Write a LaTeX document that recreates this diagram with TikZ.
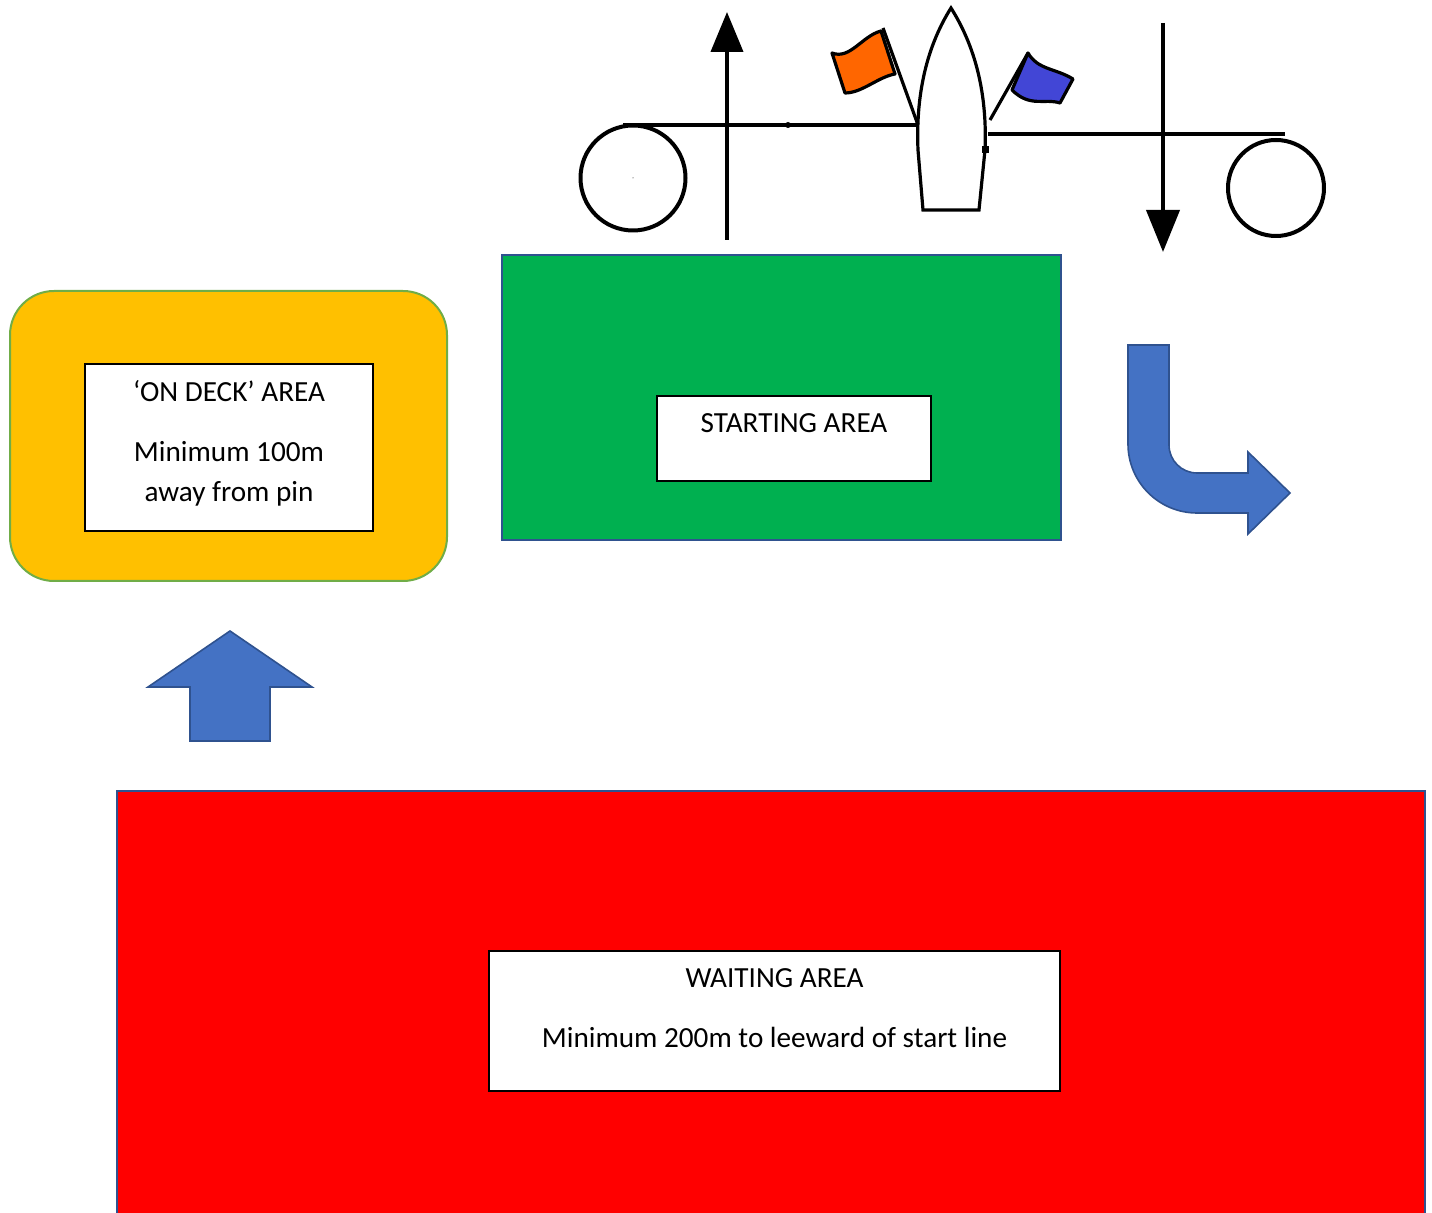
\documentclass[tikz,border=0pt]{standalone}
\usepackage{fontspec}
\setmainfont{Carlito}
\usepackage{tikz}
\usetikzlibrary{arrows.meta}

\definecolor{deckyellow}{HTML}{FFC000}
\definecolor{deckgreen}{HTML}{70AD47}
\definecolor{startgreen}{HTML}{00B050}
\definecolor{waitred}{HTML}{FF0000}
\definecolor{shapeblue}{HTML}{4472C4}
\definecolor{edgeblue}{HTML}{2F528F}
\definecolor{flagorange}{HTML}{FF6600}
\definecolor{flagblue}{HTML}{4246D6}

\tikzset{
    area/.style={draw=edgeblue, line width=1pt, inner sep=0pt},
    infobox/.style={draw, fill=white, line width=0.8pt, inner sep=0pt},
    txt/.style={anchor=base, inner sep=0pt, font=\fontsize{14.6}{17}\selectfont},
    course/.style={line width=2pt},
    bluearrow/.style={fill=shapeblue, draw=edgeblue, line width=0.8pt, line join=miter}
}

\begin{document}
\begin{tikzpicture}[x=0.5pt, y=-0.5pt]
    \useasboundingbox (0,0) rectangle (1432,1213);

    % areas
    \node[area, fill=deckyellow, draw=deckgreen, rounded corners=22pt,
          minimum width=218.5pt, minimum height=145pt] at (228.5,436)  (ondeck)   {};
    \node[area, fill=startgreen, minimum width=279.5pt, minimum height=142.5pt]
          at (781.5,397.5) (starting) {};
    \node[area, fill=waitred, minimum width=654pt, minimum height=224.5pt]
          at (771,1015.5) (waiting)  {};

    \node[infobox, minimum width=144pt,   minimum height=83.5pt] at (229,447.5)   (ondeckbox) {};
    \node[infobox, minimum width=137pt,   minimum height=42.5pt] at (794,438.5)   (startbox)  {};
    \node[infobox, minimum width=285.5pt, minimum height=70pt]   at (774.5,1021)  (waitbox)   {};

    \node[txt] at (229,402)    (ondecktitle) {‘ON DECK’ AREA};
    \node[txt] at (229,462)    (ondeckmin)   {Minimum 100m};
    \node[txt] at (229,502)    (ondeckpin)   {away from pin};
    \node[txt] at (794,433)    (starttitle)  {STARTING AREA};
    \node[txt] at (774.5,988)  (waittitle)   {WAITING AREA};
    \node[txt] at (774.5,1048) (waitmin)     {Minimum 200m to leeward of start line};

    % block arrows
    \draw[bluearrow] (230,631) -- (312,687) -- (270,687) -- (270,741)
        -- (190,741) -- (190,687) -- (148,687) -- cycle;
    \draw[bluearrow] (1128,345) -- (1169,345) -- (1169,445)
        arc[start angle=180, end angle=90, radius=28] -- (1248,473) -- (1248,452)
        -- (1290,493) -- (1248,534) -- (1248,513) -- (1197,513)
        arc[start angle=90, end angle=180, radius=69] -- cycle;

    % start line
    \node[draw, circle, line width=2pt, minimum size=52.5pt, inner sep=0pt] at (633,178) (pin) {};
    \node[draw, circle, line width=2pt, minimum size=48pt, inner sep=0pt]   at (1276,188) (mark) {};
    \fill (633,178) circle[radius=0.5];

    \draw[fill=white, line width=1.6pt] (923,210) -- (918,150)
        .. controls (915,80) and (934,35) .. (951,8)
        .. controls (968,35) and (988,80) .. (985,150) -- (979,210) -- cycle;
    \coordinate (boatport) at (918,125);
    \coordinate (boatstar) at (988,134);

    \draw[course] (623,125) -- (boatport);
    \fill (788,125) circle[radius=3];
    \draw[course] (boatstar) -- (1285,134);
    \fill (982,146) rectangle (989,153);

    \draw[course, -{Triangle[width=16pt, length=20pt]}] (727,240) -- (727,12);
    \draw[course, -{Triangle[width=16.5pt, length=21pt]}] (1163,23) -- (1163,252);

    % flags
    \draw[line width=1.6pt] (883,28) -- (boatport);
    \draw[fill=flagorange, line width=1.6pt, line join=round] (832,53)
        .. controls (850,60) and (862,36) .. (881,31) -- (895,74)
        .. controls (878,77) and (862,93) .. (845,93) -- cycle;
    \draw[line width=1.6pt] (1028,53) -- (990,120);
    \draw[fill=flagblue, line width=1.6pt, line join=round] (1028,53)
        .. controls (1038,70) and (1055,68) .. (1073,79) -- (1060,103)
        .. controls (1045,98) and (1030,108) .. (1012,90) -- cycle;
\end{tikzpicture}
\end{document}
